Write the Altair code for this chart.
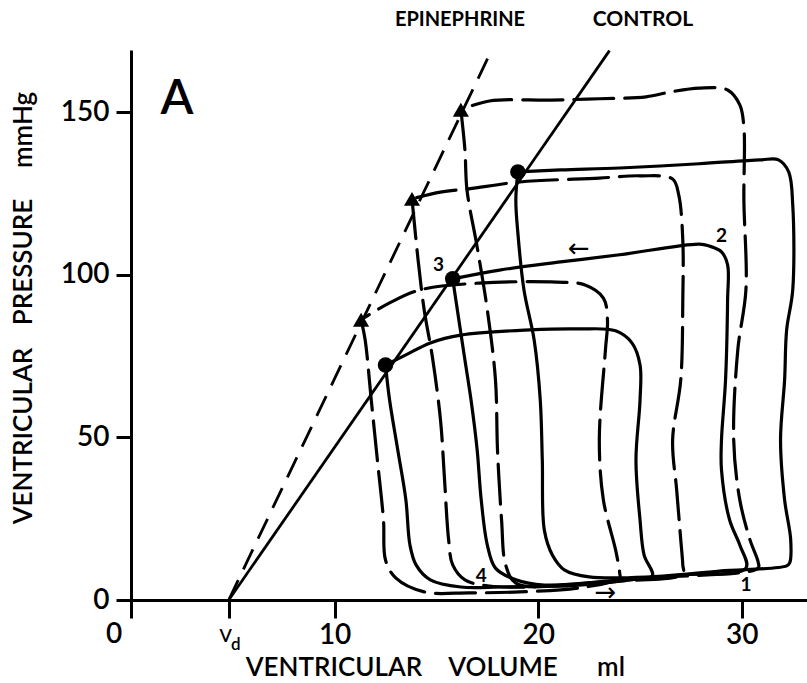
import altair as alt
import pandas as pd

VD = 4.8  # dead volume, ml

# Control pressure-volume loops (solid): volume (ml), pressure (mmHg)
ctrl1_vol = [12.5, 12.7, 13.1, 13.5, 13.7, 14.0, 14.7, 16.2, 18.1, 21.1, 24.0, 25.6, 25.2, 25.0, 24.8,
             25.0, 25.0, 24.6, 23.8, 22.0, 19.6, 16.2, 14.7, 13.5, 12.5]
ctrl1_prs = [72.3, 61.5, 46.2, 30.8, 16.9, 10.8, 6.2, 4.0, 4.0, 4.6, 6.2, 7.4, 13.8, 24.6, 43.1,
             61.5, 72.3, 79.1, 82.8, 83.4, 83.1, 81.5, 79.1, 75.4, 72.3]

ctrl2_vol = [15.8, 16.1, 16.4, 16.7, 17.0, 17.2, 17.5, 17.9, 18.9, 20.3, 23.0, 27.0, 30.2, 29.9, 29.4,
             29.0, 29.0, 29.2, 29.3, 29.3, 29.0, 28.4, 27.9, 24.0, 21.1, 18.1, 15.8]
ctrl2_prs = [98.8, 86.2, 73.8, 61.5, 46.2, 30.8, 16.9, 9.8, 6.2, 4.6, 5.5, 7.7, 9.8, 16.9, 24.6,
             40.0, 49.2, 67.7, 92.3, 103.1, 107.1, 108.9, 109.5, 106.2, 104.0, 101.5, 98.8]

ctrl3_vol = [19.0, 18.9, 19.0, 19.3, 19.8, 20.1, 20.2, 20.3, 20.7, 21.3, 22.5, 25.5, 28.9, 32.2, 32.35,
             32.4, 32.1, 31.9, 32.1, 32.2, 32.5, 32.5, 32.3, 31.8, 30.9, 27.9, 24.0, 21.1, 19.0]
ctrl3_prs = [131.7, 123.1, 112.9, 95.4, 80.0, 61.5, 43.1, 21.5, 13.8, 9.2, 7.1, 7.1, 8.9, 10.5, 11.4,
             18.5, 30.8, 49.2, 67.7, 83.1, 95.4, 121.5, 131.7, 135.4, 135.4, 134.2, 132.9, 132.3, 131.7]

# Epinephrine pressure-volume loops (dashed)
epi1_vol = [11.3, 11.5, 11.8, 12.1, 12.4, 12.5, 13.0, 14.4, 16.6, 19.1, 22.0, 24.0, 24.0, 23.8, 23.2,
            23.0, 23.3, 23.4, 23.2, 22.3, 20.9, 17.1, 14.2, 12.7, 11.3]
epi1_prs = [86.2, 80.0, 61.5, 43.1, 24.6, 12.3, 6.8, 2.5, 2.2, 2.5, 3.7, 6.8, 8.3, 15.4, 30.8,
            49.2, 76.9, 86.2, 92.9, 96.9, 97.8, 97.5, 95.4, 91.4, 86.2]

epi2_vol = [13.8, 14.1, 14.4, 14.8, 15.2, 15.4, 15.6, 15.8, 16.4, 17.6, 21.1, 24.0, 27.1, 27.1, 27.0,
            26.8, 26.6, 27.0, 27.1, 27.1, 26.9, 26.6, 25.0, 23.0, 19.1, 16.6, 15.2, 13.8]
epi2_prs = [123.4, 104.6, 89.2, 74.8, 55.4, 36.9, 18.5, 10.8, 6.2, 4.3, 4.3, 5.8, 8.0, 10.8, 18.5,
            33.8, 49.2, 67.7, 92.3, 110.8, 124.6, 129.5, 130.5, 129.8, 128.6, 126.5, 125.5, 123.4]

epi3_vol = [16.2, 16.4, 16.5, 17.0, 17.5, 17.9, 18.0, 18.2, 18.4, 18.9, 21.1, 25.5, 30.8, 30.8, 30.4,
            29.9, 29.6, 29.8, 30.2, 30.1, 30.1, 29.9, 29.3, 27.9, 26.5, 25.3, 23.0, 20.6, 17.6, 16.2]
epi3_prs = [150.8, 138.5, 126.2, 108.6, 89.2, 67.7, 46.2, 24.6, 10.8, 5.2, 4.3, 6.8, 9.8, 11.7, 18.5,
            30.8, 49.2, 76.9, 95.4, 123.1, 145.5, 152.3, 156.9, 157.5, 156.3, 154.8, 154.2, 153.8, 153.5, 150.8]

# End-systolic points
ctrl_esp_vol = [12.5, 15.8, 19.0]
ctrl_esp_prs = [72.3, 98.8, 131.7]
epi_esp_vol = [11.3, 13.8, 16.2]
epi_esp_prs = [86.2, 123.4, 150.8]

# End-systolic pressure-volume relations, both from Vd
ctrl_line_vol = [VD, 23.5]
ctrl_line_prs = [0, 169]
epi_line_vol = [VD, 17.7]
epi_line_prs = [0, 169]

# Loop numbers
loop_text = ["1", "2", "3", "4"]
loop_text_vol = [30.2, 29.0, 15.1, 17.2]
loop_text_prs = [4.6, 112.0, 103.1, 7.4]

# Direction arrows
arrow_text = ["\u2190", "\u2192"]
arrow_vol = [22.0, 23.3]
arrow_prs = [108.0, 2.3]

FONT = "Lato"
W = 600


def loop_frame(name, vols, prss):
    return pd.DataFrame({"loop": name, "seq": list(range(len(vols))), "vol": vols, "prs": prss})


ctrl_df = pd.concat([loop_frame("c1", ctrl1_vol, ctrl1_prs),
                     loop_frame("c2", ctrl2_vol, ctrl2_prs),
                     loop_frame("c3", ctrl3_vol, ctrl3_prs)])
epi_df = pd.concat([loop_frame("e1", epi1_vol, epi1_prs),
                    loop_frame("e2", epi2_vol, epi2_prs),
                    loop_frame("e3", epi3_vol, epi3_prs)])

x_axis = alt.Axis(values=[0, VD, 10, 20, 30], title=None, grid=False,
                  domainColor="black", domainWidth=3, tickColor="black", tickWidth=3, tickSize=18,
                  labelExpr="datum.value >= 10 ? format(datum.value, 'd') : ''",
                  labelFont=FONT, labelFontSize=28, labelFontWeight=W, labelColor="black", labelPadding=3)
y_axis = alt.Axis(values=[0, 50, 100, 150], title=None, grid=False,
                  domainColor="black", domainWidth=3, tickColor="black", tickWidth=3, tickSize=15,
                  labelFont=FONT, labelFontSize=28, labelFontWeight=W, labelColor="black", labelPadding=7,
                  format="d")

X = alt.X("vol:Q", scale=alt.Scale(domain=[0, 33.2], nice=False, zero=False), axis=x_axis)
Y = alt.Y("prs:Q", scale=alt.Scale(domain=[0, 169.2], nice=False, zero=False), axis=y_axis)

line_style = dict(color="black", interpolate="catmull-rom", strokeJoin="round", strokeCap="round")

ctrl_loops = alt.Chart(ctrl_df).mark_line(strokeWidth=3.2, **line_style).encode(
    x=X, y=Y, detail="loop:N", order="seq:Q")
epi_loops = alt.Chart(epi_df).mark_line(strokeWidth=3.2, strokeDash=[40, 11], **line_style).encode(
    x=X, y=Y, detail="loop:N", order="seq:Q")

ctrl_line = alt.Chart(pd.DataFrame({"vol": ctrl_line_vol, "prs": ctrl_line_prs})).mark_line(
    color="black", strokeWidth=2.8).encode(x=X, y=Y)
epi_line = alt.Chart(pd.DataFrame({"vol": epi_line_vol, "prs": epi_line_prs})).mark_line(
    color="black", strokeWidth=2.8, strokeDash=[22, 12]).encode(x=X, y=Y)

ctrl_pts = alt.Chart(pd.DataFrame({"vol": ctrl_esp_vol, "prs": ctrl_esp_prs})).mark_point(
    shape="circle", filled=True, size=240, color="black", opacity=1).encode(x=X, y=Y)
epi_pts = alt.Chart(pd.DataFrame({"vol": epi_esp_vol, "prs": epi_esp_prs})).mark_point(
    shape="triangle-up", filled=True, size=260, color="black", opacity=1).encode(x=X, y=Y)

numbers = alt.Chart(pd.DataFrame({"vol": loop_text_vol, "prs": loop_text_prs, "t": loop_text})).mark_text(
    font=FONT, fontSize=19, fontWeight="bold", color="black").encode(x=X, y=Y, text="t:N")

arrows = alt.Chart(pd.DataFrame({"vol": arrow_vol, "prs": arrow_prs, "t": arrow_text})).mark_text(
    font="DejaVu Sans", fontSize=26, color="black").encode(x=X, y=Y, text="t:N")

# tick labels at 0 and Vd on the volume axis
zero_lbl = alt.Chart(pd.DataFrame({"vol": [0], "prs": [0], "t": ["0"]})).mark_text(
    font=FONT, fontSize=28, fontWeight=W, color="black", dx=-17, dy=35).encode(x=X, y=Y, text="t:N")
vd_v = alt.Chart(pd.DataFrame({"vol": [VD], "prs": [0], "t": ["V"]})).mark_text(
    font=FONT, fontSize=18, fontWeight=W, color="black", dx=-3, dy=37).encode(x=X, y=Y, text="t:N")
vd_d = alt.Chart(pd.DataFrame({"vol": [VD], "prs": [0], "t": ["d"]})).mark_text(
    font=FONT, fontSize=17, fontWeight=W, color="black", dx=7, dy=45).encode(x=X, y=Y, text="t:N")


def label(text, x, y, size, weight=W, angle=0):
    return alt.Chart(pd.DataFrame({"t": [text]})).mark_text(
        font=FONT, fontSize=size, fontWeight=weight, color="black", angle=angle,
        align="center", baseline="middle").encode(
        x=alt.value(x), y=alt.value(y), text="t:N")


titles = [
    label("VENTRICULAR", 203, 618, 26),
    label("VOLUME", 372, 618, 26),
    label("ml", 480, 618, 26),
    label("VENTRICULAR", -107, 386, 26, angle=270),
    label("PRESSURE", -107, 212, 26, angle=270),
    label("mmHg", -107, 80, 26, angle=270),
    label("A", 46, 50, 48),
    label("EPINEPHRINE", 329, -30, 20, "bold"),
    label("CONTROL", 512, -30, 21, "bold"),
]

chart = alt.layer(
    ctrl_line, epi_line, ctrl_loops, epi_loops, ctrl_pts, epi_pts, numbers, arrows,
    zero_lbl, vd_v, vd_d, *titles
).properties(
    width=676, height=550,
    autosize=alt.AutoSizeParams(type="none"),
    padding={"left": 131, "top": 50, "right": 0, "bottom": 83},
    background="white",
).configure_view(stroke="transparent")

chart.save("out.html", embed_options={"renderer": "svg", "actions": False})
